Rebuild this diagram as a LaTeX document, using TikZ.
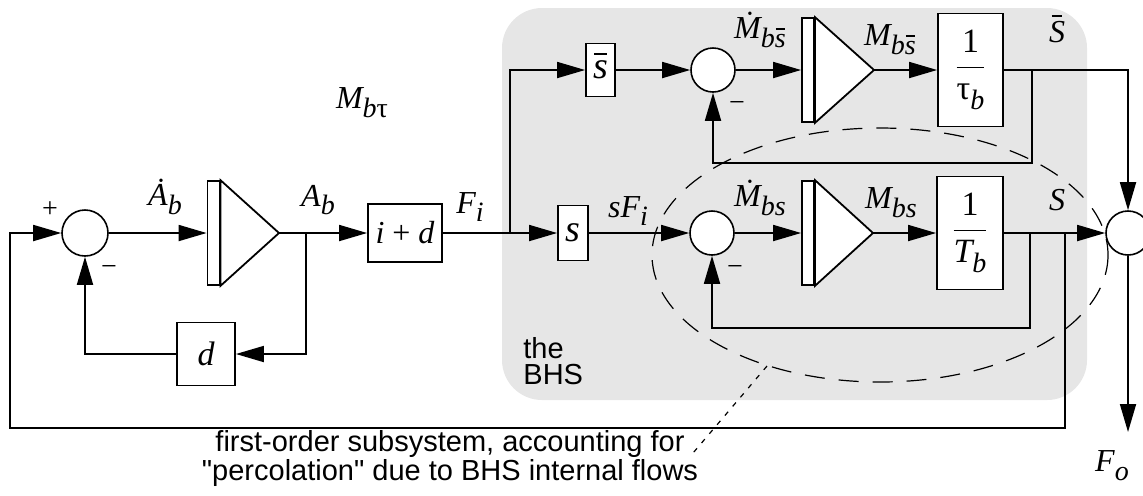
\documentclass[tikz,border=0pt]{standalone}
\usepackage{fontspec}
\setmainfont{Liberation Serif}
\newfontfamily\sansf{Liberation Sans}
\usepackage{amsmath}
\usetikzlibrary{arrows.meta}
\definecolor{bhsgray}{RGB}{230,230,230}
\newcommand{\lbl}{\fontsize{16}{18}\selectfont\itshape}
\newcommand{\sbs}[1]{\raisebox{-0.6ex}{\fontsize{14}{14}\selectfont\itshape #1}}
\newcommand{\ovb}[2][0.78em]{\ooalign{#2\cr\hidewidth\raisebox{#1}{\rule{0.32em}{0.07em}}\hidewidth\cr}}
\newcommand{\frc}[2]{$\genfrac{}{}{0.7pt}{0}{\text{#1}}{\text{#2}}$}
\begin{document}
\begin{tikzpicture}[x=0.5pt,y=-0.5pt,
  ln/.style={line width=0.9pt},
  arr/.style={line width=0.9pt,-{Triangle[length=14pt,width=8pt]}},
  sumc/.style={circle,draw,line width=0.8pt,fill=white,minimum size=22pt,inner sep=0pt},
  blk/.style={draw,line width=0.9pt,fill=white,inner sep=0pt},
  ibar/.style={draw,line width=0.9pt,fill=white,minimum width=6pt,minimum height=52pt,inner sep=0pt},
  lab/.style={font=\lbl,inner sep=0pt},
  sgn/.style={font=\fontsize{14}{14}\selectfont,inner sep=0pt},
  elli/.style={line width=0.6pt,dash pattern=on 10pt off 7pt},
  leader/.style={line width=0.6pt,dash pattern=on 2.5pt off 3.5pt},
  note/.style={font=\sansf\fontsize{14.5}{13}\selectfont,inner sep=0pt}]
\useasboundingbox (0,0) rectangle (1143,495);
% BHS region
\fill[bhsgray,rounded corners=20pt] (502,8) rectangle (1087,400);
\draw[elli] (880,255) ellipse [x radius=228, y radius=127];
% first loop
\node[sumc,minimum size=23pt] (s1) at (85,233) {};
\node[ibar] (i1) at (213.5,233) {};
\coordinate (i1o) at (279,233);
\draw[ln,fill=white] (i1.north east) -- (i1o) -- (i1.south east) -- cycle;
\node[blk,minimum width=37pt,minimum height=29pt,font=\fontsize{16}{16}\selectfont] (id) at (405,233) {\itshape i \upshape + \itshape d};
\node[blk,minimum width=29pt,minimum height=31.5pt,font=\fontsize{17}{17}\selectfont\itshape] (dd) at (206,354) {d};
\coordinate (b1) at (306,233);
\draw[arr] (s1.east) -- (i1.west);
\draw[arr] (i1o) -- (id.west);
\draw[arr] (b1) |- (dd.east);
\draw[arr] (dd.west) -| (s1.south);
% s boxes
\coordinate (b2) at (510,233);
\node[blk,minimum width=15pt,minimum height=27.5pt,font=\fontsize{19}{19}\selectfont\itshape] (sb) at (573,233) {s};
\node[blk,minimum width=14.5pt,minimum height=26.5pt,font=\fontsize{19}{19}\selectfont\itshape] (sbar) at (600.5,70) {\ovb[0.62em]{s}};
\draw[arr] (id.east) -- (sb.west);
\draw[arr] (b2) |- (sbar.west);
% upper branch
\node[sumc] (s2) at (713,70) {};
\node[ibar] (i2) at (808,70) {};
\coordinate (i2o) at (874,70);
\draw[ln,fill=white] (i2.north east) -- (i2o) -- (i2.south east) -- cycle;
\node[blk,minimum width=32.5pt,minimum height=56.5pt,font=\fontsize{17}{17}\selectfont] (tau) at (970.5,70) {\frc{1}{τ\sbs{b}}};
\draw[arr] (sbar.east) -- (s2.west);
\draw[arr] (s2.east) -- (i2.west);
\draw[arr] (i2o) -- (tau.west);
\coordinate (b3) at (1032,70);
\draw[arr] (b3) -- ++(0,93) -| (s2.south);
% lower branch
\node[sumc] (s3) at (712,233) {};
\node[ibar] (i3) at (808,233) {};
\coordinate (i3o) at (873,233);
\draw[ln,fill=white] (i3.north east) -- (i3o) -- (i3.south east) -- cycle;
\node[blk,minimum width=33pt,minimum height=56.5pt,font=\fontsize{17}{17}\selectfont] (Tb) at (970,233) {\frc{1}{\itshape T\sbs{b}}};
\draw[arr] (sb.east) -- (s3.west);
\draw[arr] (s3.east) -- (i3.west);
\draw[arr] (i3o) -- (Tb.west);
\coordinate (b4) at (1030,233);
\draw[arr] (b4) -- ++(0,95) -| (s3.south);
% output junction
\node[sumc] (s4) at (1128,233) {};
\draw[arr] (tau.east) -| (s4.north);
\draw[arr] (Tb.east) -- (s4.west);
\coordinate (fo) at (1128,432);
\draw[arr] (s4.south) -- (fo);
% outer feedback
\coordinate (b5) at (1065,233);
\coordinate (fbl) at (10,428);
\draw[arr] (b5) |- (fbl) |- (s1.west);
% signs
\node[sgn] (p1) at (50,210) {+};
\node[sgn] (m1) at (109,270) {−};
\node[sgn] (m2) at (737,106) {−};
\node[sgn] (m3) at (735,270) {−};
% labels
\node[lab] (lAd) at (165,197) {\.{A}\sbs{b}};
\node[lab] (lAb) at (318,200) {A\sbs{b}};
\node[lab] (lMt) at (362,103) {M\sbs{b\upshape τ}};
\node[lab] (lFi) at (470,207) {F\sbs{i}};
\node[lab] (lsF) at (628,211) {sF\sbs{i}};
\node[lab] (lMd1) at (760,30) {\.{M}\sbs{b\ovb[0.62em]{s}}};
\node[lab] (lM1) at (890,40) {M\sbs{b\ovb[0.62em]{s}}};
\node[lab] (lS1) at (1057,32) {\ovb[0.8em]{S}};
\node[lab] (lMd2) at (760,198) {\.{M}\sbs{bs}};
\node[lab] (lM2) at (891,203) {M\sbs{bs}};
\node[lab] (lS2) at (1057,200) {S};
\node[lab] (lFo) at (1112,466) {F\sbs{o}};
% texts
\node[note,align=left,anchor=north west] (bhs) at (523,337) {the\\BHS};
\node[note,align=center] (nt) at (450,458) {first-order subsystem, accounting for\\"percolation" due to BHS internal flows};
\coordinate (le1) at (767,366);
\coordinate (le2) at (693,453);
\draw[leader] (le1) -- (le2);
\end{tikzpicture}
\end{document}
